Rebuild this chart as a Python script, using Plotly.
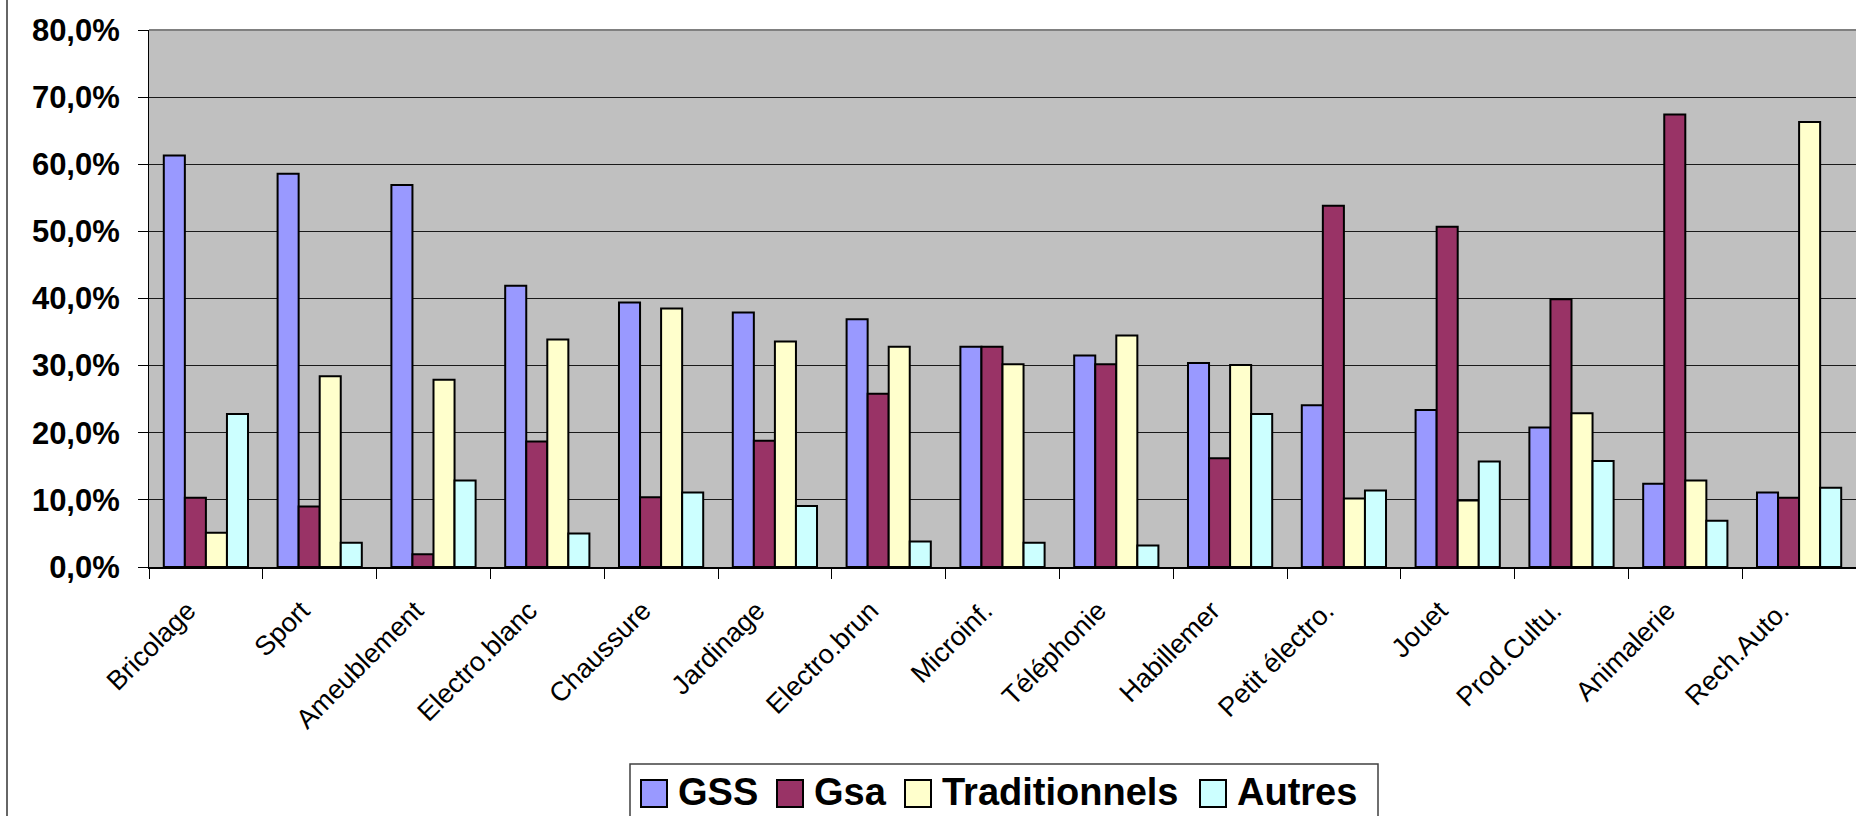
import plotly.graph_objects as go

categories = ["Bricolage", "Sport", "Ameublement", "Electro.blanc", "Chaussure",
              "Jardinage", "Electro.brun", "Microinf.", "Téléphonie", "Habillemer",
              "Petit électro.", "Jouet", "Prod.Cultu.", "Animalerie", "Rech.Auto."]

gss = [61.3, 58.6, 56.9, 41.9, 39.4, 37.9, 36.9, 32.8, 31.5, 30.4, 24.1, 23.4, 20.8, 12.4, 11.1]
gsa = [10.3, 9.0, 1.9, 18.7, 10.4, 18.8, 25.8, 32.8, 30.2, 16.2, 53.8, 50.7, 39.9, 67.4, 10.3]
traditionnels = [5.1, 28.4, 27.9, 33.9, 38.5, 33.6, 32.8, 30.2, 34.5, 30.1, 10.2, 9.9, 22.9, 12.9, 66.3]
autres = [22.8, 3.6, 12.9, 5.0, 11.1, 9.1, 3.8, 3.6, 3.2, 22.8, 11.4, 15.7, 15.8, 6.9, 11.8]

series_names = ["GSS", "Gsa", "Traditionnels", "Autres"]
series_values = [gss, gsa, traditionnels, autres]
series_colors = ["#9999FF", "#993366", "#FFFFCC", "#CCFFFF"]

FONT = "Liberation Sans, Arial, sans-serif"

W, H = 1856, 816
ml, mr, mt, mb = 149, 0, 30, 249
pw, ph = W - ml - mr, H - mt - mb


def px(x):
    return (x - ml) / pw


def py(y):
    return (mt + ph - y) / ph


fig = go.Figure()
for name, vals, color in zip(series_names, series_values, series_colors):
    fig.add_trace(go.Bar(
        x=categories, y=[v / 100 for v in vals], name=name,
        marker=dict(color=color, line=dict(color="black", width=2)),
        showlegend=False,
    ))

fig.update_layout(
    width=W, height=H,
    margin=dict(l=ml, r=mr, t=mt, b=mb),
    paper_bgcolor="white", plot_bgcolor="#C0C0C0",
    barmode="group", bargap=0.26, bargroupgap=0,
    separators=", ",
    font=dict(family=FONT, color="black"),
    showlegend=False,
)

fig.update_xaxes(
    type="category", tickangle=-45, tickson="boundaries",
    ticks="outside", ticklen=10, tickcolor="black", tickwidth=1,
    showline=True, linecolor="black", linewidth=2,
    tickfont=dict(family=FONT, size=27, color="black"),
    ticklabelstandoff=15, ticklabelshift=-18,
    showgrid=False, range=[-0.5, len(categories) - 0.5],
)
fig.update_yaxes(
    range=[0, 0.8], dtick=0.1, tickformat=".1%",
    ticks="outside", ticklen=10, tickcolor="black", tickwidth=1,
    showline=True, linecolor="black", linewidth=1,
    showgrid=True, gridcolor="#1a1a1a", gridwidth=1,
    tickfont=dict(family=FONT, size=31, color="black", weight="bold"),
    ticklabelstandoff=12, zeroline=False,
)

# plot-area top border (gray)
fig.add_shape(type="line", xref="paper", yref="paper", x0=0, x1=1, y0=1, y1=1,
              line=dict(color="#808080", width=2))
# outer chart-area left border
fig.add_shape(type="line", xref="paper", yref="paper",
              x0=px(7), x1=px(7), y0=py(H + 5), y1=py(-5),
              line=dict(color="#333333", width=1.5))

# custom legend (large swatches like the original)
fig.add_shape(type="rect", xref="paper", yref="paper",
              x0=px(630), x1=px(1378), y0=py(835), y1=py(764),
              line=dict(color="#404040", width=1.5), fillcolor="white")
swatch_left = [641, 777, 905, 1200]
for name, color, sx in zip(series_names, series_colors, swatch_left):
    fig.add_shape(type="rect", xref="paper", yref="paper",
                  x0=px(sx), x1=px(sx + 26), y0=py(807), y1=py(780),
                  line=dict(color="black", width=2), fillcolor=color)
    fig.add_annotation(xref="paper", yref="paper", x=px(sx + 35), y=py(792),
                       xanchor="left", yanchor="middle", showarrow=False,
                       text=name,
                       font=dict(family=FONT, size=38, color="black", weight="bold"))

fig.write_html("out.html")
